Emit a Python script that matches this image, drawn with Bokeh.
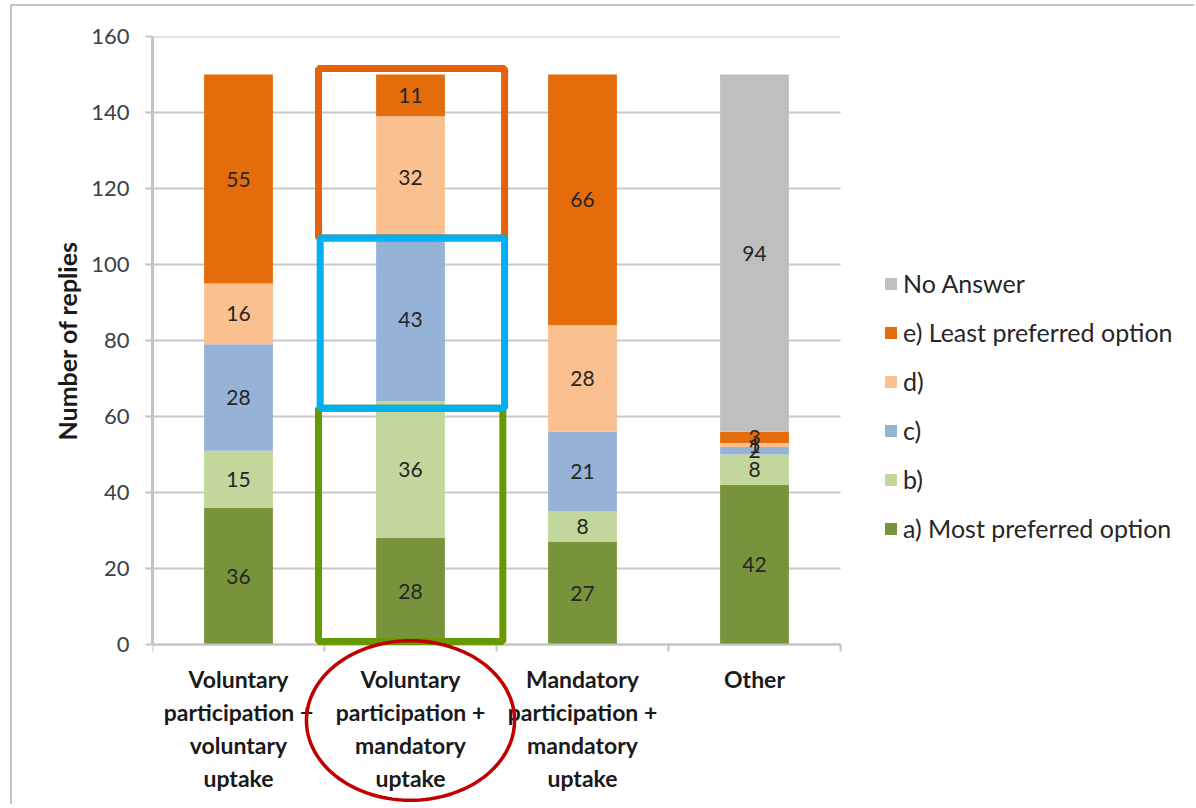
import numpy as np
from bokeh.plotting import figure
from bokeh.models import (Range1d, FixedTicker, LabelSet, ColumnDataSource, Legend,
                          LegendItem, PolyAnnotation, Title)
from bokeh.core.properties import value
from bokeh.embed import file_html
from bokeh.resources import INLINE

# ---------------- data ----------------
categories = [
    "Voluntary\nparticipation +\nvoluntary\nuptake",
    "Voluntary\nparticipation +\nmandatory\nuptake",
    "Mandatory\nparticipation +\nmandatory\nuptake",
    "Other",
]
series_names = ["a) Most preferred option", "b)", "c)", "d)",
                "e) Least preferred option", "No Answer"]
a_most = [36, 28, 27, 42]
b_vals = [15, 36, 8, 8]
c_vals = [28, 43, 21, 2]
d_vals = [16, 32, 28, 1]
e_least = [55, 11, 66, 3]
no_answer = [0, 0, 0, 94]
y_ticks = [0, 20, 40, 60, 80, 100, 120, 140, 160]

colors = ["#77933C", "#C3D69B", "#95B3D7", "#FAC090", "#E46C0A", "#BFBFBF"]
FONT = "Lato"
AXIS_GRAY = "#C4C4C4"

series = [a_most, b_vals, c_vals, d_vals, e_least, no_answer]
keys = ["s%d" % i for i in range(len(series))]
xs = list(range(1, len(categories) + 1))
data = {"x": xs}
for k, s in zip(keys, series):
    data[k] = s
src = ColumnDataSource(data)

# geometry (pixels): 160 units span 608 px; a category slot spans 172 px
W, H = 1184, 800
top_border, left_border = 30, 140
px_per_y = 608 / 160.0
px_per_x = 172.0
frame_h = H - top_border
frame_w = W - left_border
y_start = 160 - frame_h / px_per_y
x_end = 0.5 + frame_w / px_per_x

p = figure(width=W, height=H, x_range=Range1d(0.5, x_end), y_range=Range1d(y_start, 160),
           output_backend="svg", toolbar_location=None,
           min_border_left=left_border, min_border_right=0, min_border_top=top_border,
           min_border_bottom=0)
p.styles = {"margin-left": "10px", "margin-top": "4px",
            "border-left": "2px solid #c4c4c4", "border-top": "2px solid #c4c4c4"}
p.outline_line_color = None
p.background_fill_color = "white"
p.border_fill_color = "white"
p.xaxis.visible = False
p.xgrid.grid_line_color = None
p.ygrid.grid_line_color = None

x_lo, x_hi = xs[0] - 0.5, xs[-1] + 0.5

# horizontal grid lines (limited to the plot area)
p.segment(x0=[x_lo] * len(y_ticks), x1=[x_hi] * len(y_ticks), y0=y_ticks, y1=y_ticks,
          line_color="#C8C8C8", line_width=2)

rends = p.vbar_stack(keys, x="x", width=0.4, color=colors, source=src, line_color=None)

# x axis line and boundary ticks
tick_len = 7 / px_per_y
bounds_x = [x - 0.5 for x in xs] + [x_hi]
p.segment(x0=[x_lo], x1=[x_hi], y0=[0], y1=[0], line_color=AXIS_GRAY, line_width=2)
p.segment(x0=bounds_x, x1=bounds_x, y0=[0] * len(bounds_x), y1=[-tick_len] * len(bounds_x),
          line_color=AXIS_GRAY, line_width=2)

# bar value labels
lx, ly, lt = [], [], []
base = np.zeros(len(categories))
for s in series:
    arr = np.array(s, dtype=float)
    for i, v in enumerate(arr):
        if v > 0:
            lx.append(xs[i])
            ly.append(base[i] + v / 2)
            lt.append(str(int(v)))
    base += arr
p.add_layout(LabelSet(x="x", y="y", text="t",
                      source=ColumnDataSource(dict(x=lx, y=ly, t=lt)),
                      text_align="center", text_baseline="middle",
                      text_font=value(FONT), text_font_size="21px", text_color="#262626"))

# highlight boxes around the 2nd column
ci = 1
ab = a_most[ci] + b_vals[ci]
abc = ab + c_vals[ci]
tot = abc + d_vals[ci] + e_least[ci]
bx0, bx1 = xs[ci] - 0.535, xs[ci] + 0.547
p.quad(left=[bx0], right=[bx1], bottom=[abc], top=[tot + 1.6],
       fill_color=None, line_color="#E5610A", line_width=7)
p.quad(left=[bx0], right=[bx1 - 0.01], bottom=[0.8], top=[ab - 1.8],
       fill_color=None, line_color="#669A00", line_width=7)
p.quad(left=[bx0 + 0.01], right=[bx1], bottom=[ab - 1.8], top=[abc],
       fill_color=None, line_color="#00B0F0", line_width=7)

# y axis
yax = p.yaxis[0]
yax.ticker = FixedTicker(ticks=y_ticks)
yax.bounds = (0, 160)
yax.axis_line_color = AXIS_GRAY
yax.axis_line_width = 3
yax.major_tick_line_color = AXIS_GRAY
yax.major_tick_line_width = 2
yax.major_tick_out = 7
yax.major_tick_in = 0
yax.minor_tick_line_color = None
yax.major_label_text_font = FONT
yax.major_label_text_font_size = "22px"
yax.major_label_text_color = "#404040"
yax.major_label_standoff = 16

# y axis title, centred on the 0..160 span of the axis (start measured from frame bottom)
zero_above_bottom = (0 - y_start) * px_per_y
axis_mid_above_bottom = zero_above_bottom + 80 * px_per_y
est_title_len = 200
p.add_layout(Title(text="Number of replies", align="left",
                   offset=axis_mid_above_bottom - est_title_len / 2,
                   text_font=FONT, text_font_style="bold", text_font_size="25px",
                   text_color="#1a1a1a", standoff=14), "left")

# category labels, one text per line, each line centred
cx, cy, ct = [], [], []
line_pitch = 32.8 / px_per_y
first_line = -9.2
for i, cat in enumerate(categories):
    for j, line in enumerate(cat.split("\n")):
        cx.append(xs[i])
        cy.append(first_line - j * line_pitch)
        ct.append(line)
p.add_layout(LabelSet(x="x", y="y", text="t",
                      source=ColumnDataSource(dict(x=cx, y=cy, t=ct)),
                      text_align="center", text_baseline="middle",
                      text_font=value(FONT), text_font_style="bold", text_font_size="23px",
                      text_color="#1a1a1a"))

# red ellipse around 2nd category label
t = np.linspace(0, 2 * np.pi, 120)
ex = xs[ci] + 0.605 * np.cos(t)
ey = -20.0 + 21.0 * np.sin(t)
p.add_layout(PolyAnnotation(xs=list(ex), ys=list(ey), fill_color=None, fill_alpha=0,
                            line_color="#C00000", line_alpha=1.0, line_width=3.5))

# legend
items = [LegendItem(label=n, renderers=[r]) for n, r in zip(series_names, rends)][::-1]
leg = Legend(items=items, location=(731, 263), orientation="vertical",
             glyph_width=15, glyph_height=15, label_height=20, spacing=19,
             label_standoff=5, padding=0, margin=0,
             label_text_font=FONT, label_text_font_size="25px", label_text_color="#262626",
             border_line_color=None, background_fill_alpha=0)
p.add_layout(leg, "center")

open("out.html", "w").write(file_html(p, INLINE))
